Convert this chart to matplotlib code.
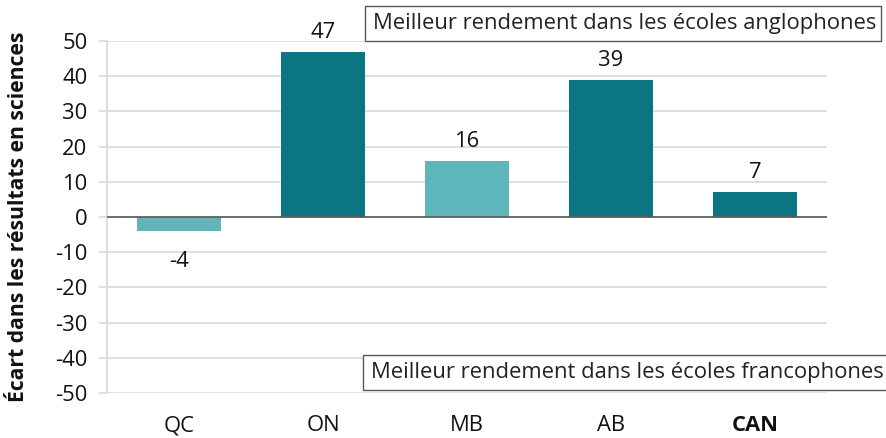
import matplotlib.pyplot as plt
import matplotlib.patches as patches

# data
provinces = ['QC', 'ON', 'MB', 'AB', 'CAN']
gaps = [-4, 47, 16, 39, 7]
shade = ['light', 'dark', 'light', 'dark', 'dark']
yticks = list(range(-50, 51, 10))
top_note = 'Meilleur rendement dans les écoles anglophones'
bottom_note = 'Meilleur rendement dans les écoles francophones'
ylabel = 'Écart dans les résultats en sciences'

plt.rcParams['font.family'] = ['Open Sans', 'DejaVu Sans']
colors = {'dark': '#0B7682', 'light': '#5EB6BA'}
fs = 15.8

fig = plt.figure(figsize=(8.86, 4.38), dpi=100)
ax = fig.add_axes([0.1208, 0.1027, 0.8126, 0.8037])

x = range(len(provinces))
ax.bar(x, gaps, width=0.58, color=[colors[s] for s in shade], zorder=3)

for xi, v in zip(x, gaps):
    off = 14 if v >= 0 else -22
    ax.annotate(str(v), (xi, v), xytext=(0, off), textcoords='offset points',
                ha='center', va='center', fontsize=fs, color='#111111')

ax.set_xlim(-0.5, len(provinces) - 0.5)
ax.set_ylim(-50, 50)
ax.set_yticks(yticks)
ax.set_yticklabels([str(t) for t in yticks], fontsize=fs, color='#111111')
ax.set_xticks(list(x))
ax.set_xticklabels(provinces, fontsize=fs, color='#111111')
ax.get_xticklabels()[-1].set_fontweight('bold')
ax.tick_params(axis='y', length=6, color='#D9D9D9', width=1.2, pad=8)
ax.tick_params(axis='x', length=0, pad=16)

ax.grid(axis='y', color='#D9D9D9', linewidth=1.2, zorder=0)
for s in ['top', 'right', 'bottom']:
    ax.spines[s].set_visible(False)
ax.spines['left'].set_color('#D9D9D9')
ax.spines['left'].set_linewidth(1.2)
ax.axhline(0, color='#595959', linewidth=1.2, zorder=4)

ax.set_ylabel(ylabel, fontsize=15.2, fontweight='bold', color='#111111')
ax.yaxis.set_label_coords(-0.108, 0.5)

# note boxes
W, H = 886, 438
def note(txt, x0, y0, x1, y1):
    fig.patches.append(patches.Rectangle((x0 / W, 1 - y1 / H), (x1 - x0) / W, (y1 - y0) / H,
                                         transform=fig.transFigure, fill=True,
                                         facecolor='white', edgecolor='#595959',
                                         linewidth=1.0, zorder=5))
    fig.text((x0 + 8) / W, 1 - (y0 + y1) / 2 / H, txt, ha='left', va='center',
             fontsize=fs, color='#222222', zorder=6)

note(top_note, 365, 6, 881, 41)
note(bottom_note, 363, 355, 890, 390)

plt.savefig('out.png', dpi=100)
